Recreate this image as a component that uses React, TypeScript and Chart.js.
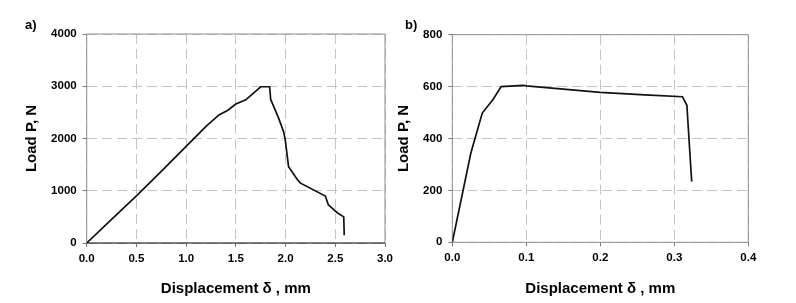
import React, { useEffect, useRef } from "react";
import { Chart, registerables } from "chart.js";

Chart.register(...registerables);

// Panel a) data
const aDisp = [0, 0.25, 0.5, 0.75, 1.0, 1.2, 1.33, 1.42, 1.5, 1.6, 1.75, 1.84, 1.85, 1.93, 1.98, 1.995, 2.03, 2.12, 2.15, 2.4, 2.43, 2.52, 2.585, 2.59];
const aLoad = [0, 450, 900, 1370, 1850, 2230, 2450, 2540, 2660, 2740, 2990, 2990, 2750, 2390, 2130, 2000, 1460, 1210, 1145, 900, 730, 580, 500, 150];

// Panel b) data
const bDisp = [0, 0.025, 0.0405, 0.055, 0.066, 0.096, 0.1, 0.2, 0.26, 0.311, 0.317, 0.3235];
const bLoad = [0, 343, 498, 550, 600, 605, 603, 578, 568, 561, 528, 234];

const aXTicks = { min: 0, max: 3, step: 0.5 };
const aYTicks = { min: 0, max: 4000, step: 1000 };
const bXTicks = { min: 0, max: 0.4, step: 0.1 };
const bYTicks = { min: 0, max: 800, step: 200 };

const xTitle = "Displacement δ , mm";
const yTitle = "Load P, N";

const FONT = "'Liberation Sans', Arial, Helvetica, sans-serif";

type Cfg = {
  disp: number[];
  load: number[];
  xt: { min: number; max: number; step: number };
  yt: { min: number; max: number; step: number };
  label: string;
  yAxisWidth: number;
  xAxisHeight: number;
  padRight: number;
  padTop: number;
  yTitlePad: number;
  bottomColor: string;
  labelX: number;
};

function makeChart(canvas: HTMLCanvasElement, c: Cfg) {
  const framePlugin = {
    id: "frame",
    beforeDatasetsDraw(chart: any) {
      const { ctx, chartArea } = chart;
      const { left, right, top, bottom } = chartArea;
      ctx.save();
      ctx.lineWidth = 1;
      ctx.strokeStyle = "#8f8f8f";
      ctx.beginPath();
      ctx.moveTo(left, bottom);
      ctx.lineTo(left, top);
      ctx.lineTo(right, top);
      ctx.lineTo(right, bottom);
      ctx.stroke();
      ctx.strokeStyle = c.bottomColor;
      ctx.beginPath();
      ctx.moveTo(left, bottom);
      ctx.lineTo(right, bottom);
      ctx.stroke();
      ctx.restore();
    },
    afterDraw(chart: any) {
      const { ctx } = chart;
      ctx.save();
      ctx.fillStyle = "#000";
      ctx.font = "bold 13px " + FONT;
      ctx.textBaseline = "alphabetic";
      ctx.textAlign = "left";
      ctx.fillText(c.label, c.labelX, 29.3);
      ctx.restore();
    },
  };

  const tickFont = { family: FONT, size: 11.5, weight: "bold" as const };
  const titleFont = { family: FONT, size: 15, weight: "bold" as const };
  const gridOpts = {
    color: "#c4c4c4",
    tickBorderDash: [],
    tickColor: "#777",
    tickLength: 4,
    lineWidth: 1,
  } as any;
  const borderOpts = { display: false, dash: [10, 5] } as any;

  return new Chart(canvas, {
    type: "line",
    data: {
      datasets: [
        {
          data: c.disp.map((x, i) => ({ x, y: c.load[i] })),
          borderColor: "#111",
          borderWidth: 1.7,
          pointRadius: 0,
          tension: 0,
          fill: false,
        },
      ],
    },
    options: {
      responsive: false,
      animation: false,
      devicePixelRatio: 1,
      layout: { padding: { left: 0, right: c.padRight, top: c.padTop, bottom: 0 } },
      plugins: { legend: { display: false }, tooltip: { enabled: false } },
      scales: {
        x: {
          type: "linear",
          min: c.xt.min,
          max: c.xt.max,
          afterFit(scale: any) {
            scale.height = c.xAxisHeight;
          },
          border: borderOpts,
          grid: gridOpts,
          ticks: {
            stepSize: c.xt.step,
            color: "#000",
            font: tickFont,
            padding: 5,
            maxRotation: 0,
            callback: (v: any) => Number(v).toFixed(1),
          },
          title: {
            display: true,
            text: xTitle,
            color: "#000",
            font: titleFont,
            padding: { top: 0, bottom: 5.5 },
          },
        },
        y: {
          type: "linear",
          min: c.yt.min,
          max: c.yt.max,
          afterFit(scale: any) {
            scale.width = c.yAxisWidth;
          },
          border: borderOpts,
          grid: gridOpts,
          ticks: {
            stepSize: c.yt.step,
            color: "#000",
            font: tickFont,
            padding: 6,
            callback: (v: any) => String(Math.round(Number(v))),
          },
          title: {
            display: true,
            text: yTitle,
            color: "#000",
            font: titleFont,
            padding: { top: c.yTitlePad, bottom: 0 },
          },
        },
      },
    },
    plugins: [framePlugin],
  } as any);
}

export default function App() {
  const refA = useRef<HTMLCanvasElement>(null);
  const refB = useRef<HTMLCanvasElement>(null);

  useEffect(() => {
    const ca = makeChart(refA.current!, {
      disp: aDisp,
      load: aLoad,
      xt: aXTicks,
      yt: aYTicks,
      label: "a)",
      yAxisWidth: 86.7,
      xAxisHeight: 60,
      padRight: 12.3,
      padTop: 34,
      yTitlePad: 23,
      bottomColor: "#000",
      labelX: 25,
    });
    const cb = makeChart(refB.current!, {
      disp: bDisp,
      load: bLoad,
      xt: bXTicks,
      yt: bYTicks,
      label: "b)",
      yAxisWidth: 54.3,
      xAxisHeight: 60.7,
      padRight: 47.7,
      padTop: 34.7,
      yTitlePad: -3.5,
      bottomColor: "#8f8f8f",
      labelX: 7,
    });
    return () => {
      ca.destroy();
      cb.destroy();
    };
  }, []);

  return (
    <div style={{ position: "absolute", left: 0, top: 0, width: 796, height: 303, background: "#fff", overflow: "hidden" }}>
      <canvas ref={refA} width={398} height={303} style={{ position: "absolute", left: 0, top: 0, width: 398, height: 303 }} />
      <canvas ref={refB} width={398} height={303} style={{ position: "absolute", left: 398, top: 0, width: 398, height: 303 }} />
    </div>
  );
}
